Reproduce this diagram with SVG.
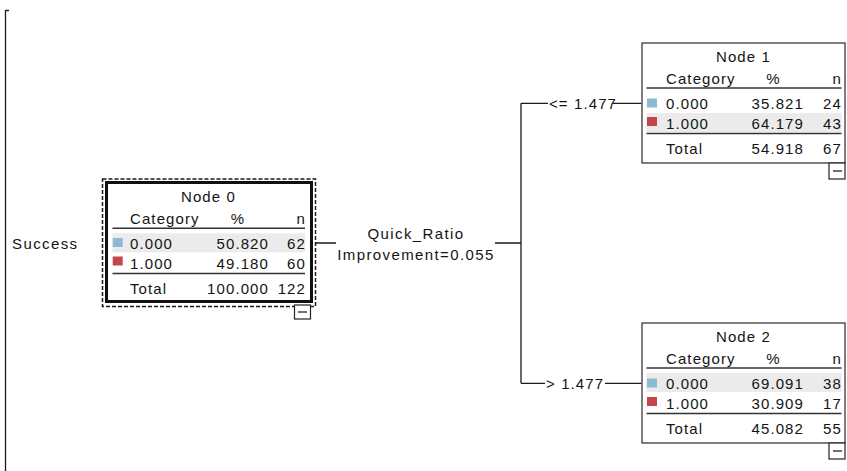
<svg xmlns="http://www.w3.org/2000/svg" width="847" height="471" viewBox="0 0 847 471">
<style>
text{font-family:"Liberation Sans",Arial,sans-serif;font-size:15px;fill:#141414;letter-spacing:1.1px}
.m{text-anchor:middle}
.e{text-anchor:end}
.lbl{letter-spacing:1.4px}
.box{fill:#fff;stroke:#3a3a3a;stroke-width:1.3}
.thick{fill:#fff;stroke:#111;stroke-width:3}
.dash{fill:none;stroke:#1a1a1a;stroke-width:1.5;stroke-dasharray:4 2}
.rule{stroke:#333;stroke-width:1.4}
.band{fill:#ebebeb}
.c0{fill:#8db9d4}
.c1{fill:#c4464d}
.minus{fill:#fff;stroke:#222;stroke-width:1.2}
.conn{fill:none;stroke:#1a1a1a;stroke-width:1.3}
</style>
<g id="axis"><path class="conn" d="M5.5 10 V471 M5.5 10.5 H9"/></g>
<text class="lbl" x="12" y="249">Success</text>
<g id="connectors">
<path class="conn" d="M316 243 H336 M495 243 H521 M521 103.3 V383.3 M521 103.3 H548 M613 103.3 H641.5 M521 383.3 H545 M605 383.3 H641.5"/>
<text class="m lbl" x="416" y="238.5">Quick_Ratio</text>
<text class="m lbl" x="416" y="259.5">Improvement=0.055</text>
<text x="549" y="108.5">&lt;= 1.477</text>
<text x="546" y="388.5">&gt; 1.477</text>
</g>
<g id="node0" transform="translate(106,183)">
<rect class="dash" x="-3.5" y="-4" width="213" height="127.5"/>
<rect class="thick" x="0.5" y="-0.5" width="205" height="119"/>
<text class="m" x="102.5" y="18.5">Node 0</text>
<text x="24" y="41">Category</text>
<text class="m" x="132" y="41">%</text>
<text class="e" x="200" y="41">n</text>
<line class="rule" x1="6.5" y1="45.3" x2="199" y2="45.3"/>
<rect class="band" x="6.5" y="50.3" width="192.5" height="19"/>
<rect class="c0" x="6.7" y="55" width="10" height="9"/>
<text x="24" y="66">0.000</text>
<text class="e" x="163" y="66">50.820</text>
<text class="e" x="200" y="66">62</text>
<rect class="c1" x="6.7" y="73.5" width="10" height="9"/>
<text x="24" y="86">1.000</text>
<text class="e" x="163" y="86">49.180</text>
<text class="e" x="200" y="86">60</text>
<line class="rule" x1="6.5" y1="90.5" x2="199" y2="90.5"/>
<text x="24" y="111">Total</text>
<text class="e" x="163" y="111">100.000</text>
<text class="e" x="200" y="111">122</text>
<rect class="minus" x="188.5" y="122" width="16" height="14"/>
<line class="rule" x1="192" y1="129" x2="201" y2="129"/>
</g>
<g id="node1" transform="translate(642,43)">
<rect class="box" x="0" y="0" width="203" height="120"/>
<text class="m" x="101.5" y="18.5">Node 1</text>
<text x="24" y="41">Category</text>
<text class="m" x="131.5" y="41">%</text>
<text class="e" x="200" y="41">n</text>
<line class="rule" x1="4.5" y1="45" x2="199.5" y2="45"/>
<rect class="band" x="4.5" y="70" width="195" height="19"/>
<rect class="c0" x="5" y="55.5" width="10" height="9"/>
<text x="24" y="65.5">0.000</text>
<text class="e" x="162" y="65.5">35.821</text>
<text class="e" x="200" y="65.5">24</text>
<rect class="c1" x="5" y="74" width="10" height="9"/>
<text x="24" y="85.5">1.000</text>
<text class="e" x="162" y="85.5">64.179</text>
<text class="e" x="200" y="85.5">43</text>
<line class="rule" x1="4.5" y1="90.5" x2="199.5" y2="90.5"/>
<text x="24" y="111">Total</text>
<text class="e" x="162" y="111">54.918</text>
<text class="e" x="200" y="111">67</text>
<rect class="minus" x="187" y="120" width="16" height="16"/>
<line class="rule" x1="191" y1="128" x2="200" y2="128"/>
</g>
<g id="node2" transform="translate(642,323)">
<rect class="box" x="0" y="0" width="203" height="120"/>
<text class="m" x="101.5" y="18.5">Node 2</text>
<text x="24" y="41">Category</text>
<text class="m" x="131.5" y="41">%</text>
<text class="e" x="200" y="41">n</text>
<line class="rule" x1="4.5" y1="45" x2="199.5" y2="45"/>
<rect class="band" x="4.5" y="50" width="195" height="19"/>
<rect class="c0" x="5" y="55.5" width="10" height="9"/>
<text x="24" y="65.5">0.000</text>
<text class="e" x="162" y="65.5">69.091</text>
<text class="e" x="200" y="65.5">38</text>
<rect class="c1" x="5" y="74" width="10" height="9"/>
<text x="24" y="85.5">1.000</text>
<text class="e" x="162" y="85.5">30.909</text>
<text class="e" x="200" y="85.5">17</text>
<line class="rule" x1="4.5" y1="90.5" x2="199.5" y2="90.5"/>
<text x="24" y="111">Total</text>
<text class="e" x="162" y="111">45.082</text>
<text class="e" x="200" y="111">55</text>
<rect class="minus" x="187" y="120" width="16" height="16"/>
<line class="rule" x1="191" y1="128" x2="200" y2="128"/>
</g>
</svg>
